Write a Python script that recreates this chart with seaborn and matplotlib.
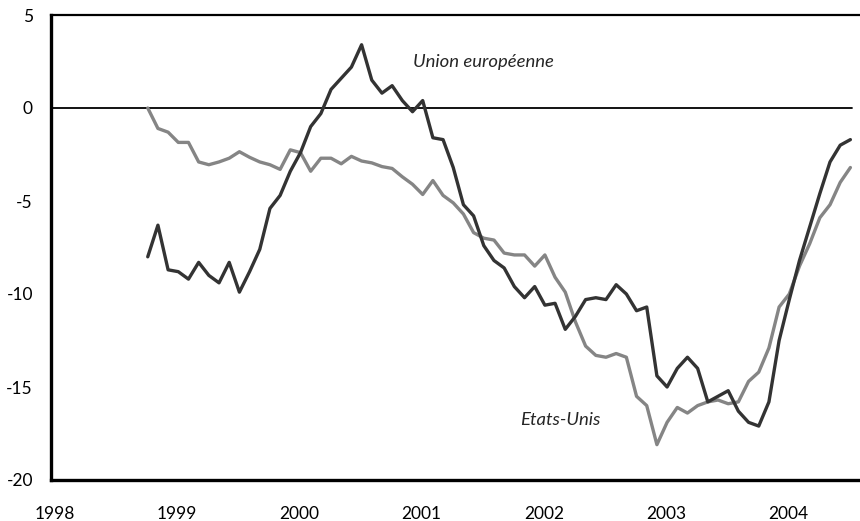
import numpy as np
import pandas as pd
import seaborn as sns
import matplotlib.pyplot as plt
from matplotlib.transforms import ScaledTranslation

# monthly values, Oct 1998 .. Jul 2004
start_year, start_month = 1998, 10
union_eu = [-8.0, -6.3, -8.7, -8.8, -9.2, -8.3, -9.0, -9.4, -8.3, -9.9,
            -8.8, -7.6, -5.4, -4.7, -3.4, -2.4, -1.0, -0.3, 1.0, 1.6,
            2.2, 3.4, 1.5, 0.8, 1.2, 0.4, -0.2, 0.4, -1.6, -1.7,
            -3.2, -5.2, -5.8, -7.4, -8.2, -8.6, -9.6, -10.2, -9.6, -10.6,
            -10.5, -11.9, -11.2, -10.3, -10.2, -10.3, -9.5, -10.0, -10.9, -10.7,
            -14.4, -15.0, -14.0, -13.4, -14.0, -15.8, -15.5, -15.2, -16.3, -16.9,
            -17.1, -15.8, -12.5, -10.3, -8.2, -6.4, -4.6, -2.9, -2.0, -1.7]
etats_unis = [0.0, -1.1, -1.3, -1.85, -1.85, -2.9, -3.05, -2.9, -2.7, -2.35,
              -2.65, -2.9, -3.05, -3.3, -2.25, -2.4, -3.4, -2.7, -2.7, -3.0,
              -2.6, -2.85, -2.95, -3.15, -3.25, -3.7, -4.1, -4.65, -3.9, -4.7,
              -5.1, -5.7, -6.7, -7.0, -7.1, -7.8, -7.9, -7.9, -8.5, -7.9,
              -9.1, -9.9, -11.5, -12.8, -13.3, -13.4, -13.2, -13.4, -15.5, -16.0,
              -18.1, -16.9, -16.1, -16.4, -16.0, -15.8, -15.7, -15.9, -15.8, -14.7,
              -14.2, -12.9, -10.7, -10.0, -8.5, -7.3, -5.9, -5.2, -4.0, -3.2]

years = [1998, 1999, 2000, 2001, 2002, 2003, 2004]
y_ticks = [5, 0, -5, -10, -15, -20]

# decimal date at mid-month
k0 = start_month - 1
t = [start_year + (k0 + i + 0.5) / 12 for i in range(len(union_eu))]
df = pd.DataFrame({'t': t * 2,
                   'val': union_eu + etats_unis,
                   'serie': ['Union européenne'] * len(t) + ['Etats-Unis'] * len(t)})

sns.set_style('white')
plt.rcParams['font.family'] = ['Lato', 'DejaVu Sans']
plt.rcParams['axes.unicode_minus'] = False
plt.rcParams['font.size'] = 12

fig = plt.figure(figsize=(8.6, 5.21), dpi=100)
ax = fig.add_axes([51 / 860, 1 - 480 / 521, 1 - 51 / 860, (480 - 15) / 521])

ax.axhline(0, xmin=0, xmax=(851.5 - 51) / (860 - 51), color='black', lw=1.3, zorder=1)

sns.lineplot(data=df, x='t', y='val', hue='serie',
             palette={'Union européenne': '#333333', 'Etats-Unis': '#858585'},
             hue_order=['Etats-Unis', 'Union européenne'],
             linewidth=2.4, legend=False, ax=ax, zorder=3)

ax.set_xlim(1998, 1998 + (860 - 51) / 122.2)
ax.set_ylim(-20, 5)
ax.set_xticks(years, [str(y) for y in years])
ax.set_yticks(y_ticks, [str(v) for v in y_ticks])
ax.set_xlabel('')
ax.set_ylabel('')
ax.tick_params(axis='both', direction='in', length=6, width=1.8, labelsize=12.5,
               colors='black')
ax.tick_params(axis='x', pad=19)
ax.tick_params(axis='y', pad=13)

# x labels sit a little right of their ticks
shift = ScaledTranslation(4 / 100, 0, fig.dpi_scale_trans)
for lab in ax.get_xticklabels():
    lab.set_transform(lab.get_transform() + shift)

for side in ['left', 'bottom']:
    ax.spines[side].set_linewidth(2.4)
    ax.spines[side].set_color('black')
ax.spines['top'].set_linewidth(1.6)
ax.spines['top'].set_color('black')
ax.spines['right'].set_visible(False)

ax.text(2000.96, 2.5, 'Union européenne', style='italic', fontsize=13.3, va='center')
ax.text(2001.84, -16.75, 'Etats-Unis', style='italic', fontsize=13.3, va='center')

fig.savefig('out.png', dpi=100)
